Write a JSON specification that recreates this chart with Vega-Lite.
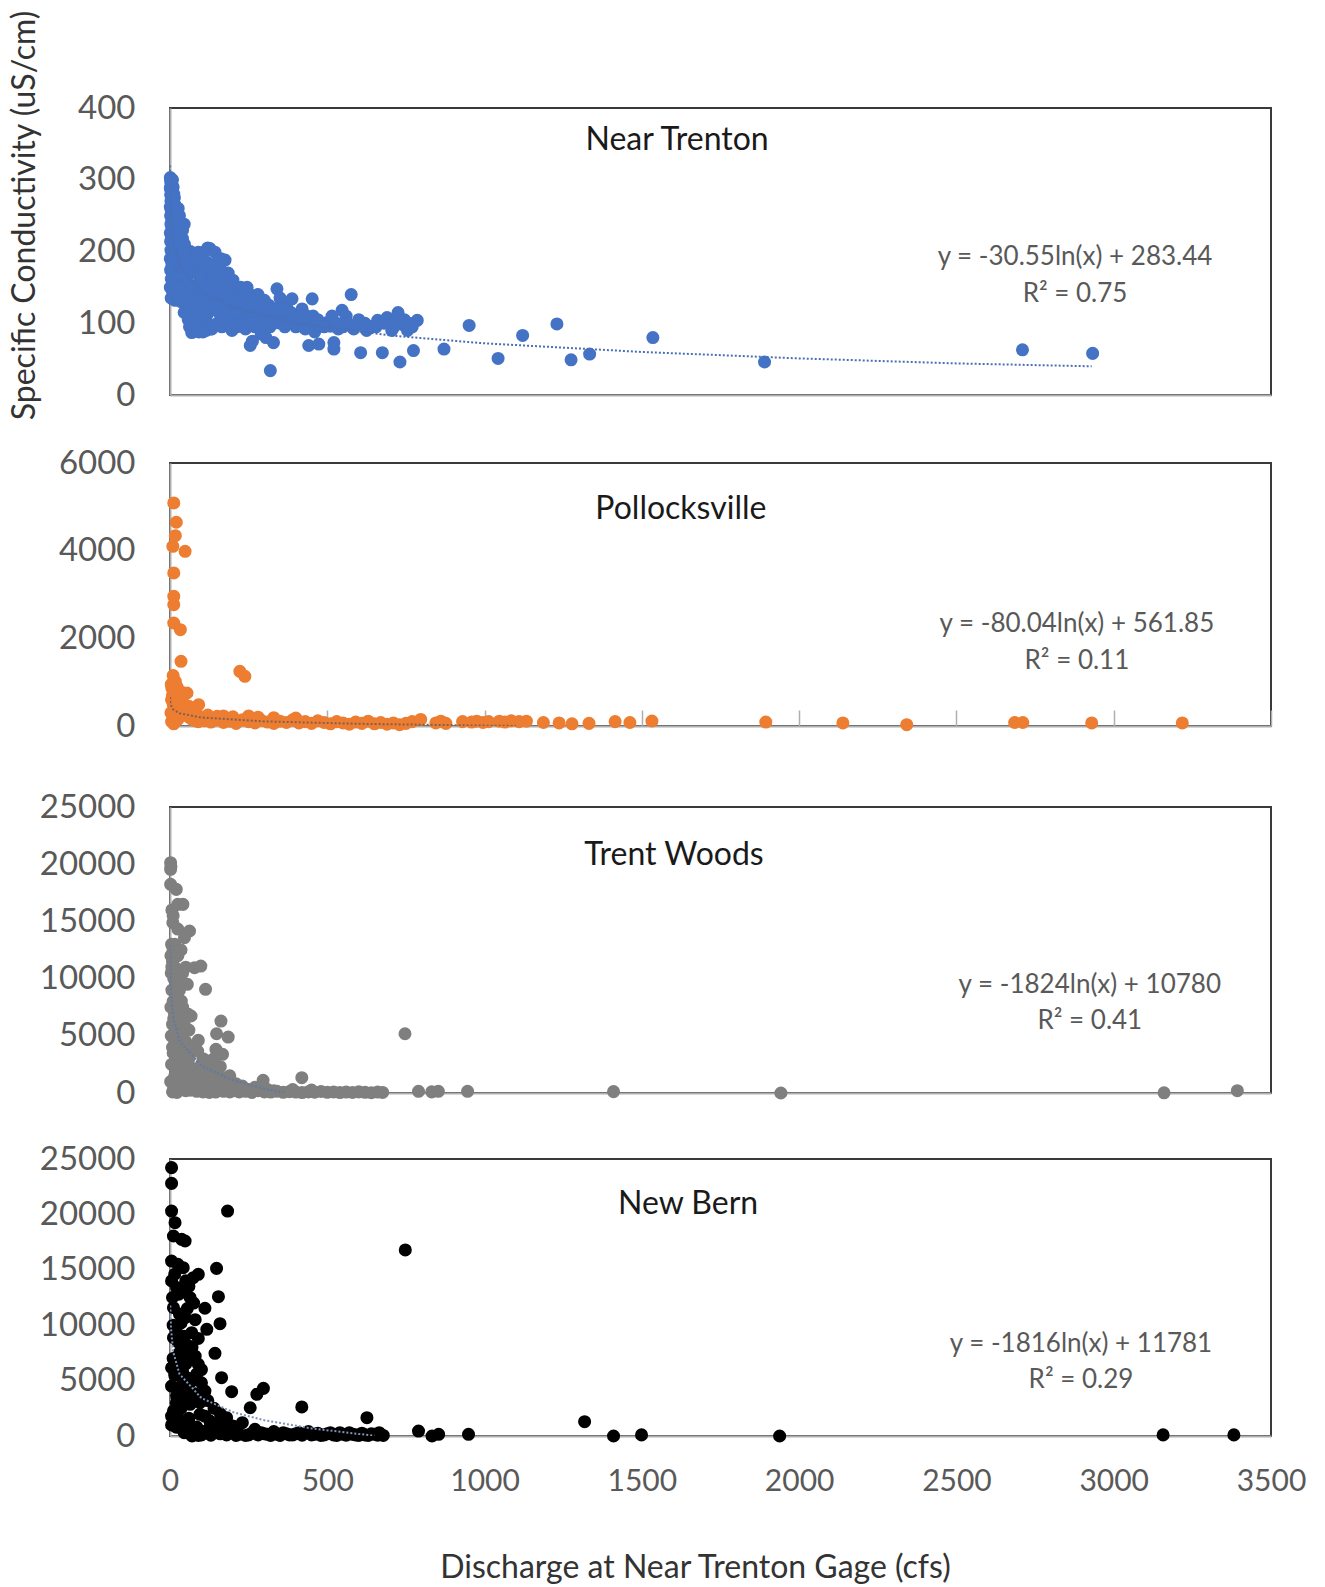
{
  "$schema": "https://vega.github.io/schema/vega-lite/v6.json",
  "padding": {"left": 6, "top": 8, "right": 5, "bottom": 5},
  "background": "white",
  "config": {
    "font": "Lato",
    "view": {"stroke": "#3a3a3a", "strokeWidth": 2},
    "axis": {
      "labelFont": "Lato", "titleFont": "Lato", "labelColor": "#595959",
      "domainColor": "#AFAFAF", "domainWidth": 2, "grid": false,
      "ticks": false, "tickSize": 0, "labelFontSize": 33, "labelPadding": 35
    }
  },
  "datasets": {
    "p1": [
      {"q":1,"sc":303},{"q":2,"sc":298},{"q":3,"sc":292},{"q":1,"sc":288},{"q":4,"sc":284},{"q":2,"sc":279},{"q":5,"sc":274},{"q":3,"sc":270},{"q":6,"sc":266},{"q":1,"sc":262},{"q":4,"sc":258},{"q":7,"sc":254},{"q":2,"sc":250},{"q":5,"sc":246},{"q":8,"sc":242},{"q":3,"sc":238},{"q":6,"sc":234},{"q":9,"sc":230},{"q":1,"sc":226},{"q":4,"sc":222},{"q":10,"sc":218},{"q":2,"sc":214},{"q":7,"sc":210},{"q":12,"sc":206},{"q":3,"sc":202},{"q":8,"sc":198},{"q":14,"sc":194},{"q":1,"sc":190},{"q":5,"sc":186},{"q":11,"sc":182},{"q":16,"sc":178},{"q":2,"sc":174},{"q":9,"sc":170},{"q":18,"sc":166},{"q":4,"sc":162},{"q":13,"sc":158},{"q":20,"sc":154},{"q":1,"sc":150},{"q":7,"sc":146},{"q":22,"sc":142},{"q":6,"sc":180},{"q":15,"sc":200},{"q":18,"sc":215},{"q":20,"sc":230},{"q":24,"sc":245},{"q":26,"sc":260},{"q":14,"sc":275},{"q":10,"sc":290},{"q":12,"sc":280},{"q":8,"sc":300},{"q":16,"sc":265},{"q":19,"sc":250},{"q":22,"sc":222},{"q":28,"sc":205},{"q":30,"sc":185},{"q":24,"sc":170},{"q":10,"sc":140},{"q":16,"sc":132},{"q":4,"sc":135},
      {"q":22,"sc":240},{"q":28,"sc":232},{"q":34,"sc":225},{"q":40,"sc":218},{"q":46,"sc":210},{"q":52,"sc":200},{"q":30,"sc":210},{"q":36,"sc":195},{"q":42,"sc":185},{"q":25,"sc":190},{"q":48,"sc":175},{"q":55,"sc":165},{"q":32,"sc":160},{"q":38,"sc":150},{"q":44,"sc":140},{"q":50,"sc":132},{"q":58,"sc":145},{"q":26,"sc":135},{"q":35,"sc":130},{"q":60,"sc":155},{"q":52,"sc":120},{"q":45,"sc":115},{"q":58,"sc":105},{"q":62,"sc":95},{"q":45,"sc":238},
      {"q":65,"sc":200},{"q":72,"sc":195},{"q":80,"sc":190},{"q":90,"sc":199},{"q":100,"sc":192},{"q":110,"sc":200},{"q":120,"sc":205},{"q":127,"sc":204},{"q":75,"sc":180},{"q":85,"sc":170},{"q":95,"sc":178},{"q":105,"sc":165},{"q":115,"sc":172},{"q":125,"sc":160},{"q":70,"sc":150},{"q":80,"sc":140},{"q":90,"sc":155},{"q":100,"sc":145},{"q":110,"sc":135},{"q":120,"sc":148},{"q":128,"sc":130},{"q":68,"sc":125},{"q":78,"sc":118},{"q":88,"sc":110},{"q":98,"sc":120},{"q":108,"sc":105},{"q":118,"sc":112},{"q":125,"sc":98},{"q":72,"sc":92},{"q":85,"sc":95},{"q":100,"sc":100},{"q":115,"sc":90},{"q":130,"sc":92},{"q":69,"sc":87},{"q":105,"sc":88},{"q":62,"sc":170},{"q":68,"sc":185},{"q":95,"sc":130},{"q":112,"sc":120},
      {"q":143,"sc":199},{"q":150,"sc":185},{"q":160,"sc":175},{"q":175,"sc":188},{"q":185,"sc":170},{"q":140,"sc":165},{"q":155,"sc":160},{"q":170,"sc":155},{"q":190,"sc":150},{"q":200,"sc":160},{"q":210,"sc":145},{"q":225,"sc":150},{"q":235,"sc":140},{"q":145,"sc":140},{"q":160,"sc":135},{"q":175,"sc":130},{"q":195,"sc":128},{"q":215,"sc":125},{"q":230,"sc":120},{"q":140,"sc":120},{"q":155,"sc":115},{"q":170,"sc":112},{"q":185,"sc":118},{"q":200,"sc":108},{"q":220,"sc":110},{"q":238,"sc":105},{"q":133,"sc":92},{"q":150,"sc":100},{"q":165,"sc":95},{"q":180,"sc":102},{"q":197,"sc":90},{"q":212,"sc":95},{"q":228,"sc":98},{"q":240,"sc":92},{"q":205,"sc":135},{"q":180,"sc":145},
      {"q":245,"sc":150},{"q":255,"sc":140},{"q":270,"sc":135},{"q":285,"sc":128},{"q":300,"sc":132},{"q":315,"sc":125},{"q":250,"sc":120},{"q":265,"sc":115},{"q":280,"sc":110},{"q":295,"sc":112},{"q":310,"sc":118},{"q":325,"sc":108},{"q":255,"sc":100},{"q":270,"sc":95},{"q":300,"sc":100},{"q":318,"sc":95},{"q":330,"sc":100},{"q":255,"sc":69},{"q":262,"sc":75},{"q":329,"sc":73},{"q":319,"sc":34},{"q":290,"sc":85},{"q":305,"sc":80},{"q":280,"sc":140},
      {"q":340,"sc":148},{"q":355,"sc":130},{"q":370,"sc":125},{"q":388,"sc":134},{"q":345,"sc":115},{"q":360,"sc":108},{"q":375,"sc":118},{"q":395,"sc":110},{"q":410,"sc":105},{"q":425,"sc":112},{"q":440,"sc":100},{"q":452,"sc":134},{"q":350,"sc":100},{"q":365,"sc":95},{"q":380,"sc":100},{"q":400,"sc":95},{"q":415,"sc":98},{"q":430,"sc":92},{"q":445,"sc":97},{"q":441,"sc":69},{"q":460,"sc":88},
      {"q":473,"sc":71},{"q":480,"sc":100},{"q":500,"sc":101},{"q":510,"sc":96},{"q":521,"sc":73},{"q":521,"sc":64},{"q":535,"sc":92},{"q":547,"sc":118},{"q":560,"sc":110},{"q":576,"sc":140},{"q":584,"sc":92},{"q":595,"sc":98},{"q":606,"sc":59},{"q":620,"sc":100},{"q":635,"sc":95},{"q":648,"sc":96},{"q":660,"sc":104},{"q":675,"sc":59},{"q":690,"sc":108},{"q":701,"sc":101},{"q":712,"sc":95},{"q":725,"sc":115},{"q":731,"sc":46},{"q":740,"sc":98},{"q":755,"sc":90},{"q":774,"sc":62},{"q":786,"sc":104},{"q":770,"sc":95},
      {"q":30,"sc":250},{"q":35,"sc":240},{"q":40,"sc":230},{"q":15,"sc":160},{"q":20,"sc":140},{"q":28,"sc":150},{"q":33,"sc":170},{"q":38,"sc":180},{"q":44,"sc":200},{"q":50,"sc":190},{"q":56,"sc":180},{"q":62,"sc":140},{"q":66,"sc":110},{"q":75,"sc":100},{"q":82,"sc":130},{"q":92,"sc":88},{"q":96,"sc":165},{"q":102,"sc":185},{"q":118,"sc":185},{"q":135,"sc":180},{"q":148,"sc":172},{"q":162,"sc":190},{"q":130,"sc":150},{"q":145,"sc":128},{"q":160,"sc":150},{"q":175,"sc":140},{"q":190,"sc":135},{"q":210,"sc":115},{"q":225,"sc":135},{"q":240,"sc":128},{"q":250,"sc":135},{"q":265,"sc":128},{"q":275,"sc":100},{"q":290,"sc":100},{"q":310,"sc":105},{"q":335,"sc":120},{"q":350,"sc":135},{"q":362,"sc":120},{"q":385,"sc":115},{"q":420,"sc":120},{"q":435,"sc":110},{"q":455,"sc":110},{"q":470,"sc":105},{"q":490,"sc":95},{"q":515,"sc":110},{"q":530,"sc":100},{"q":550,"sc":95},{"q":565,"sc":100},{"q":600,"sc":105},{"q":625,"sc":90},{"q":655,"sc":95},{"q":680,"sc":100},{"q":705,"sc":90},{"q":720,"sc":105},{"q":745,"sc":105},{"q":760,"sc":100},{"q":15,"sc":215},{"q":25,"sc":225},{"q":12,"sc":235},{"q":18,"sc":245},{"q":6,"sc":290},{"q":9,"sc":280},{"q":4,"sc":300},{"q":11,"sc":270},{"q":13,"sc":255},
      {"q":871,"sc":64},{"q":951,"sc":97},{"q":1043,"sc":51},{"q":1121,"sc":83},{"q":1230,"sc":99},{"q":1275,"sc":49},{"q":1334,"sc":57},{"q":1535,"sc":80},{"q":1890,"sc":46},{"q":2710,"sc":63},{"q":2933,"sc":58}
    ],
    "p2": [
      {"q":12,"sc":5088},{"q":20,"sc":4648},{"q":17,"sc":4342},{"q":9,"sc":4100},{"q":48,"sc":3986},{"q":12,"sc":3491},{"q":12,"sc":2959},{"q":12,"sc":2768},{"q":12,"sc":2350},{"q":33,"sc":2197},{"q":35,"sc":1476},{"q":222,"sc":1248},{"q":238,"sc":1134},
      {"q":17,"sc":1020},{"q":6,"sc":867},{"q":33,"sc":791},{"q":54,"sc":753},{"q":91,"sc":486},
      {"q":5,"sc":600},{"q":10,"sc":500},{"q":20,"sc":400},{"q":30,"sc":350},{"q":40,"sc":300},{"q":50,"sc":250},{"q":15,"sc":200},{"q":25,"sc":150},{"q":60,"sc":200},{"q":70,"sc":150},{"q":80,"sc":120},{"q":90,"sc":100},{"q":5,"sc":100},{"q":12,"sc":50},{"q":3,"sc":300},{"q":8,"sc":700},{"q":18,"sc":650},{"q":28,"sc":550},{"q":38,"sc":450},{"q":45,"sc":380},{"q":65,"sc":320},{"q":75,"sc":250},{"q":85,"sc":280},{"q":95,"sc":180},{"q":100,"sc":150},{"q":22,"sc":900},{"q":4,"sc":950},{"q":10,"sc":1150},{"q":40,"sc":650},{"q":60,"sc":450},
      {"q":110,"sc":120},{"q":130,"sc":90},{"q":150,"sc":150},{"q":170,"sc":80},{"q":190,"sc":110},{"q":210,"sc":60},{"q":230,"sc":140},{"q":250,"sc":100},{"q":270,"sc":70},{"q":290,"sc":130},{"q":310,"sc":90},{"q":330,"sc":60},{"q":350,"sc":110},{"q":370,"sc":80},{"q":390,"sc":140},{"q":410,"sc":70},{"q":430,"sc":100},{"q":450,"sc":60},{"q":470,"sc":120},{"q":490,"sc":80},{"q":510,"sc":50},{"q":530,"sc":100},{"q":550,"sc":70},{"q":570,"sc":40},{"q":590,"sc":90},{"q":610,"sc":60},{"q":630,"sc":110},{"q":650,"sc":50},{"q":670,"sc":80},{"q":690,"sc":40},{"q":710,"sc":70},{"q":730,"sc":30},{"q":750,"sc":60},{"q":770,"sc":100},{"q":797,"sc":150},{"q":250,"sc":230},{"q":280,"sc":200},{"q":150,"sc":220},{"q":200,"sc":210},{"q":330,"sc":190},{"q":400,"sc":180},{"q":120,"sc":250},{"q":170,"sc":230},
      {"q":845,"sc":70},{"q":861,"sc":110},{"q":877,"sc":60},{"q":930,"sc":100},{"q":959,"sc":90},{"q":975,"sc":110},{"q":995,"sc":80},{"q":1013,"sc":100},{"q":1047,"sc":110},{"q":1065,"sc":90},{"q":1085,"sc":120},{"q":1110,"sc":100},{"q":1133,"sc":110},{"q":1187,"sc":80},{"q":1237,"sc":70},{"q":1278,"sc":50},{"q":1332,"sc":60},{"q":1415,"sc":100},{"q":1462,"sc":80},{"q":1532,"sc":114},{"q":1894,"sc":90},{"q":2139,"sc":70},{"q":2342,"sc":30},{"q":2685,"sc":80},{"q":2711,"sc":80},{"q":2930,"sc":70},{"q":3218,"sc":70}
    ],
    "p3": [
      {"q":2,"sc":20130},{"q":3,"sc":19800},{"q":2,"sc":19550},{"q":2,"sc":18240},{"q":25,"sc":16490},{"q":41,"sc":16490},{"q":9,"sc":14890},{"q":25,"sc":14330},{"q":62,"sc":14160},{"q":46,"sc":13580},{"q":5,"sc":13000},{"q":10,"sc":12500},{"q":3,"sc":12000},{"q":8,"sc":11500},{"q":15,"sc":11000},{"q":4,"sc":10500},{"q":12,"sc":10000},{"q":20,"sc":9500},{"q":6,"sc":9000},{"q":18,"sc":8500},{"q":28,"sc":8000},{"q":3,"sc":7500},{"q":14,"sc":7000},{"q":22,"sc":6500},{"q":8,"sc":6000},{"q":30,"sc":5500},{"q":4,"sc":5000},{"q":16,"sc":4500},{"q":25,"sc":4000},{"q":10,"sc":3500},{"q":35,"sc":3000},{"q":5,"sc":2500},{"q":20,"sc":2000},{"q":40,"sc":1500},{"q":2,"sc":1000},{"q":12,"sc":500},{"q":30,"sc":300},{"q":50,"sc":200},{"q":8,"sc":100},{"q":22,"sc":50},
      {"q":78,"sc":10950},{"q":98,"sc":11100},{"q":113,"sc":9060},{"q":67,"sc":6730},{"q":162,"sc":6290},{"q":148,"sc":5180},{"q":185,"sc":4890},{"q":146,"sc":3820},{"q":167,"sc":3380},{"q":88,"sc":3670},{"q":296,"sc":1110},{"q":419,"sc":1340},{"q":747,"sc":5180},
      {"q":25,"sc":9790},{"q":36,"sc":8040},{"q":57,"sc":6900},{"q":20,"sc":4545},{"q":57,"sc":3410},{"q":67,"sc":2210},{"q":120,"sc":2800},{"q":145,"sc":1920},
      {"q":40,"sc":2200},{"q":60,"sc":1800},{"q":80,"sc":1500},{"q":100,"sc":1200},{"q":120,"sc":1000},{"q":140,"sc":800},{"q":160,"sc":700},{"q":180,"sc":600},{"q":200,"sc":500},{"q":50,"sc":1000},{"q":70,"sc":700},{"q":90,"sc":500},{"q":110,"sc":400},{"q":130,"sc":300},{"q":150,"sc":200},{"q":170,"sc":150},{"q":190,"sc":100},{"q":30,"sc":800},{"q":45,"sc":400},{"q":65,"sc":250},{"q":85,"sc":150},{"q":105,"sc":100},{"q":125,"sc":50},{"q":145,"sc":80},{"q":165,"sc":300},{"q":185,"sc":400},{"q":205,"sc":200},{"q":220,"sc":100},{"q":240,"sc":150},{"q":260,"sc":50},{"q":280,"sc":200},{"q":300,"sc":100},{"q":320,"sc":80},{"q":340,"sc":150},{"q":360,"sc":60},{"q":380,"sc":120},{"q":400,"sc":80},{"q":420,"sc":40},{"q":440,"sc":100},{"q":460,"sc":70},{"q":480,"sc":130},{"q":500,"sc":60},{"q":520,"sc":90},{"q":540,"sc":40},{"q":560,"sc":80},{"q":580,"sc":50},{"q":600,"sc":100},{"q":620,"sc":60},{"q":640,"sc":30},{"q":660,"sc":80},{"q":676,"sc":50},{"q":120,"sc":1800},{"q":100,"sc":2500},{"q":80,"sc":2000},{"q":140,"sc":1400},{"q":160,"sc":1100},{"q":180,"sc":900},{"q":60,"sc":3000},{"q":40,"sc":3800},{"q":30,"sc":6000},{"q":20,"sc":7200},
      {"q":15,"sc":13000},{"q":6,"sc":11000},{"q":25,"sc":12000},{"q":18,"sc":10500},{"q":30,"sc":9000},{"q":10,"sc":8000},{"q":40,"sc":7500},{"q":25,"sc":7000},{"q":12,"sc":6500},{"q":45,"sc":6000},{"q":35,"sc":5000},{"q":8,"sc":4000},{"q":50,"sc":4500},{"q":22,"sc":3000},{"q":45,"sc":2500},{"q":28,"sc":1000},{"q":15,"sc":1500},{"q":55,"sc":500},{"q":70,"sc":1200},{"q":85,"sc":900},{"q":95,"sc":1700},{"q":110,"sc":2200},{"q":130,"sc":2000},{"q":105,"sc":3000},{"q":75,"sc":4000},{"q":90,"sc":4600},{"q":60,"sc":5500},{"q":140,"sc":3000},{"q":160,"sc":2300},{"q":175,"sc":1300},{"q":190,"sc":1500},{"q":210,"sc":800},{"q":230,"sc":600},{"q":250,"sc":300},{"q":270,"sc":500},{"q":310,"sc":300},{"q":330,"sc":200},{"q":390,"sc":300},{"q":450,"sc":250},{"q":10,"sc":15500},{"q":20,"sc":17800},{"q":6,"sc":16000},{"q":35,"sc":12500},{"q":50,"sc":11000},{"q":55,"sc":9500},{"q":40,"sc":10500},
      {"q":790,"sc":150},{"q":832,"sc":100},{"q":853,"sc":150},{"q":946,"sc":150},{"q":1410,"sc":120},{"q":1942,"sc":0},{"q":3160,"sc":20},{"q":3393,"sc":200}
    ],
    "p4": [
      {"q":5,"sc":24220},{"q":5,"sc":22800},{"q":5,"sc":20300},{"q":16,"sc":19250},{"q":11,"sc":18050},{"q":37,"sc":17750},{"q":48,"sc":17600},{"q":183,"sc":20300},{"q":748,"sc":16790},{"q":5,"sc":15790},{"q":148,"sc":15130},{"q":154,"sc":12570},{"q":159,"sc":10140},{"q":143,"sc":7460},{"q":164,"sc":5260},{"q":196,"sc":4000},{"q":255,"sc":2550},{"q":297,"sc":4300},{"q":419,"sc":2620},{"q":626,"sc":1650},{"q":1318,"sc":1290},{"q":90,"sc":14590},{"q":111,"sc":11530},{"q":117,"sc":9630},
      {"q":42,"sc":15190},{"q":74,"sc":14290},{"q":21,"sc":13390},{"q":64,"sc":12480},{"q":11,"sc":11580},{"q":48,"sc":10680},{"q":69,"sc":9320},{"q":11,"sc":8870},{"q":42,"sc":7970},{"q":64,"sc":7070},{"q":5,"sc":6160},{"q":90,"sc":6470},{"q":69,"sc":4960},{"q":111,"sc":4060},{"q":21,"sc":3600},{"q":64,"sc":2860},{"q":11,"sc":2260},{"q":95,"sc":1960},{"q":127,"sc":1350},{"q":180,"sc":1650},{"q":276,"sc":3760},
      {"q":5,"sc":1000},{"q":20,"sc":800},{"q":40,"sc":600},{"q":60,"sc":400},{"q":80,"sc":200},{"q":100,"sc":100},{"q":120,"sc":300},{"q":140,"sc":500},{"q":160,"sc":200},{"q":180,"sc":100},{"q":200,"sc":300},{"q":220,"sc":150},{"q":240,"sc":50},{"q":260,"sc":250},{"q":280,"sc":100},{"q":300,"sc":200},{"q":320,"sc":50},{"q":340,"sc":150},{"q":360,"sc":300},{"q":380,"sc":100},{"q":400,"sc":200},{"q":420,"sc":80},{"q":440,"sc":400},{"q":460,"sc":150},{"q":480,"sc":50},{"q":500,"sc":200},{"q":520,"sc":100},{"q":540,"sc":300},{"q":560,"sc":80},{"q":580,"sc":150},{"q":600,"sc":50},{"q":620,"sc":100},{"q":640,"sc":200},{"q":660,"sc":80},{"q":678,"sc":50},{"q":30,"sc":1500},{"q":50,"sc":1200},{"q":10,"sc":2000},{"q":35,"sc":2500},{"q":55,"sc":3200},{"q":25,"sc":4200},{"q":15,"sc":5500},{"q":45,"sc":5000},{"q":30,"sc":6800},{"q":55,"sc":8200},{"q":20,"sc":9500},{"q":35,"sc":10200},{"q":8,"sc":12500},{"q":28,"sc":12800},{"q":50,"sc":14000},{"q":15,"sc":14600},
      {"q":5,"sc":14000},{"q":25,"sc":15500},{"q":40,"sc":13000},{"q":60,"sc":13500},{"q":75,"sc":12000},{"q":30,"sc":11000},{"q":10,"sc":10000},{"q":55,"sc":11500},{"q":80,"sc":10500},{"q":25,"sc":8500},{"q":45,"sc":9000},{"q":70,"sc":8000},{"q":90,"sc":8800},{"q":10,"sc":7000},{"q":30,"sc":7500},{"q":50,"sc":6500},{"q":80,"sc":7200},{"q":100,"sc":6000},{"q":20,"sc":6300},{"q":40,"sc":5800},{"q":60,"sc":5200},{"q":85,"sc":5600},{"q":100,"sc":4800},{"q":5,"sc":4500},{"q":35,"sc":4500},{"q":55,"sc":4200},{"q":80,"sc":3800},{"q":120,"sc":3200},{"q":20,"sc":3000},{"q":45,"sc":3500},{"q":95,"sc":3000},{"q":140,"sc":2500},{"q":160,"sc":2000},{"q":5,"sc":1800},{"q":25,"sc":1200},{"q":60,"sc":1600},{"q":110,"sc":1800},{"q":150,"sc":1200},{"q":200,"sc":900},{"q":230,"sc":1200},{"q":170,"sc":700},{"q":45,"sc":300},{"q":65,"sc":600},{"q":85,"sc":800},{"q":105,"sc":400},{"q":125,"sc":700},{"q":70,"sc":10},{"q":90,"sc":50},{"q":130,"sc":80},{"q":150,"sc":300},{"q":190,"sc":500},{"q":210,"sc":50},{"q":250,"sc":100},{"q":270,"sc":600},{"q":290,"sc":300},{"q":310,"sc":150},{"q":330,"sc":400},{"q":350,"sc":50},{"q":370,"sc":200},{"q":390,"sc":100},{"q":410,"sc":300},{"q":450,"sc":100},{"q":470,"sc":250},{"q":490,"sc":100},{"q":510,"sc":300},{"q":530,"sc":50},{"q":550,"sc":150},{"q":570,"sc":300},{"q":590,"sc":100},{"q":610,"sc":250},{"q":630,"sc":50},{"q":650,"sc":150},{"q":665,"sc":300},
      {"q":790,"sc":450},{"q":833,"sc":0},{"q":854,"sc":150},{"q":949,"sc":150},{"q":1410,"sc":0},{"q":1499,"sc":100},{"q":1938,"sc":0},{"q":3157,"sc":100},{"q":3382,"sc":100}
    ],
    "trend": [
      {"site":"Near Trenton","q":0.3,"sc":320},{"site":"Near Trenton","q":1,"sc":283},{"site":"Near Trenton","q":3,"sc":250},{"site":"Near Trenton","q":10,"sc":213},{"site":"Near Trenton","q":30,"sc":180},{"site":"Near Trenton","q":100,"sc":143},{"site":"Near Trenton","q":200,"sc":122},{"site":"Near Trenton","q":400,"sc":100},{"site":"Near Trenton","q":700,"sc":83},{"site":"Near Trenton","q":1000,"sc":72},{"site":"Near Trenton","q":1500,"sc":60},{"site":"Near Trenton","q":2000,"sc":51},{"site":"Near Trenton","q":2500,"sc":44},{"site":"Near Trenton","q":2930,"sc":40},
      {"site":"Pollocksville","q":0.3,"sc":658},{"site":"Pollocksville","q":1,"sc":562},{"site":"Pollocksville","q":3,"sc":474},{"site":"Pollocksville","q":10,"sc":378},{"site":"Pollocksville","q":30,"sc":290},{"site":"Pollocksville","q":100,"sc":193},{"site":"Pollocksville","q":300,"sc":105},{"site":"Pollocksville","q":600,"sc":50},{"site":"Pollocksville","q":1000,"sc":9},{"site":"Pollocksville","q":1100,"sc":1},
      {"site":"Trent Woods","q":0.3,"sc":12976},{"site":"Trent Woods","q":1,"sc":10780},{"site":"Trent Woods","q":3,"sc":8776},{"site":"Trent Woods","q":10,"sc":6580},{"site":"Trent Woods","q":30,"sc":4576},{"site":"Trent Woods","q":100,"sc":2380},{"site":"Trent Woods","q":200,"sc":1116},{"site":"Trent Woods","q":300,"sc":376},{"site":"Trent Woods","q":365,"sc":20},
      {"site":"New Bern","q":1,"sc":11781},{"site":"New Bern","q":3,"sc":9786},{"site":"New Bern","q":10,"sc":7600},{"site":"New Bern","q":30,"sc":5604},{"site":"New Bern","q":100,"sc":3418},{"site":"New Bern","q":200,"sc":2160},{"site":"New Bern","q":300,"sc":1423},{"site":"New Bern","q":450,"sc":686},{"site":"New Bern","q":650,"sc":19}
    ]
  },
  "spacing": 46,
  "vconcat": [
    {
      "bounds": "flush",
      "spacing": 68,
      "vconcat": [
        {
          "width": 1101, "height": 287,
          "layer": [
            {
              "data": {"name": "p1"},
              "mark": {"type": "circle", "size": 170, "opacity": 1, "color": "#4472C4"},
              "encoding": {
                "x": {"field": "q", "type": "quantitative", "scale": {"domain": [0, 3500], "nice": false},
                      "axis": {"labels": false, "title": null, "ticks": false}},
                "y": {"field": "sc", "type": "quantitative", "scale": {"domain": [0, 400], "nice": false},
                      "axis": {"values": [0, 100, 200, 300, 400], "format": "d",
                               "title": "Specific Conductivity (uS/cm)", "titleFontSize": 32, "titleColor": "#333333",
                               "titleFontWeight": "normal", "titleX": -146, "titleY": 107, "titleAngle": -90,
                               "titleAlign": "center", "titleBaseline": "middle"}}
              }
            },
            {
              "data": {"name": "trend"},
              "transform": [{"filter": "datum.site === 'Near Trenton'"}],
              "mark": {"type": "line", "strokeDash": [2, 2], "strokeWidth": 2, "color": "#4a6fb5", "clip": true},
              "encoding": {"x": {"field": "q", "type": "quantitative"}, "y": {"field": "sc", "type": "quantitative"}}
            },
            {
              "data": {"values": [{"label": "Near Trenton"}]},
              "mark": {"type": "text", "fontSize": 32, "color": "#1a1a1a", "align": "center", "baseline": "middle"},
              "encoding": {"x": {"datum": 1612, "type": "quantitative"}, "y": {"datum": 355, "type": "quantitative"}, "text": {"field": "label"}}
            },
            {
              "data": {"values": [{"label": "y = -30.55ln(x) + 283.44"}]},
              "mark": {"type": "text", "fontSize": 26, "color": "#595959", "align": "center", "baseline": "middle"},
              "encoding": {"x": {"datum": 2877, "type": "quantitative"}, "y": {"datum": 192, "type": "quantitative"}, "text": {"field": "label"}}
            },
            {
              "data": {"values": [{"label": "R² = 0.75"}]},
              "mark": {"type": "text", "fontSize": 26, "color": "#595959", "align": "center", "baseline": "middle"},
              "encoding": {"x": {"datum": 2877, "type": "quantitative"}, "y": {"datum": 141, "type": "quantitative"}, "text": {"field": "label"}}
            }
          ]
        },
        {
          "width": 1101, "height": 263,
          "layer": [
            {
              "data": {"name": "p2"},
              "mark": {"type": "circle", "size": 170, "opacity": 1, "color": "#ED7D31"},
              "encoding": {
                "x": {"field": "q", "type": "quantitative", "scale": {"domain": [0, 3500], "nice": false},
                      "axis": {"labels": false, "title": null, "ticks": true, "tickSize": -16, "tickWidth": 1.5, "tickColor": "#AFAFAF",
                               "values": [500, 1000, 1500, 2000, 2500, 3000, 3500]}},
                "y": {"field": "sc", "type": "quantitative", "scale": {"domain": [0, 6000], "nice": false},
                      "axis": {"values": [0, 2000, 4000, 6000], "format": "d", "title": null}}
              }
            },
            {
              "data": {"name": "trend"},
              "transform": [{"filter": "datum.site === 'Pollocksville'"}],
              "mark": {"type": "line", "strokeDash": [2, 2], "strokeWidth": 2, "color": "#806050", "clip": true},
              "encoding": {"x": {"field": "q", "type": "quantitative"}, "y": {"field": "sc", "type": "quantitative"}}
            },
            {
              "data": {"values": [{"label": "Pollocksville"}]},
              "mark": {"type": "text", "fontSize": 32, "color": "#1a1a1a", "align": "center", "baseline": "middle"},
              "encoding": {"x": {"datum": 1624, "type": "quantitative"}, "y": {"datum": 4951, "type": "quantitative"}, "text": {"field": "label"}}
            },
            {
              "data": {"values": [{"label": "y = -80.04ln(x) + 561.85"}]},
              "mark": {"type": "text", "fontSize": 26, "color": "#595959", "align": "center", "baseline": "middle"},
              "encoding": {"x": {"datum": 2883, "type": "quantitative"}, "y": {"datum": 2316, "type": "quantitative"}, "text": {"field": "label"}}
            },
            {
              "data": {"values": [{"label": "R² = 0.11"}]},
              "mark": {"type": "text", "fontSize": 26, "color": "#595959", "align": "center", "baseline": "middle"},
              "encoding": {"x": {"datum": 2883, "type": "quantitative"}, "y": {"datum": 1483, "type": "quantitative"}, "text": {"field": "label"}}
            }
          ]
        }
      ]
    },
    {
      "bounds": "flush",
      "spacing": 66,
      "vconcat": [
        {
          "width": 1101, "height": 286,
          "layer": [
            {
              "data": {"name": "p3"},
              "mark": {"type": "circle", "size": 170, "opacity": 1, "color": "#7F7F7F"},
              "encoding": {
                "x": {"field": "q", "type": "quantitative", "scale": {"domain": [0, 3500], "nice": false},
                      "axis": {"labels": false, "title": null, "ticks": false}},
                "y": {"field": "sc", "type": "quantitative", "scale": {"domain": [0, 25000], "nice": false},
                      "axis": {"values": [0, 5000, 10000, 15000, 20000, 25000], "format": "d", "title": null}}
              }
            },
            {
              "data": {"name": "trend"},
              "transform": [{"filter": "datum.site === 'Trent Woods'"}],
              "mark": {"type": "line", "strokeDash": [2, 2], "strokeWidth": 2, "color": "#5f7aa0", "clip": true},
              "encoding": {"x": {"field": "q", "type": "quantitative"}, "y": {"field": "sc", "type": "quantitative"}}
            },
            {
              "data": {"values": [{"label": "Trent Woods"}]},
              "mark": {"type": "text", "fontSize": 32, "color": "#1a1a1a", "align": "center", "baseline": "middle"},
              "encoding": {"x": {"datum": 1602, "type": "quantitative"}, "y": {"datum": 20800, "type": "quantitative"}, "text": {"field": "label"}}
            },
            {
              "data": {"values": [{"label": "y = -1824ln(x) + 10780"}]},
              "mark": {"type": "text", "fontSize": 26, "color": "#595959", "align": "center", "baseline": "middle"},
              "encoding": {"x": {"datum": 2924, "type": "quantitative"}, "y": {"datum": 9440, "type": "quantitative"}, "text": {"field": "label"}}
            },
            {
              "data": {"values": [{"label": "R² = 0.41"}]},
              "mark": {"type": "text", "fontSize": 26, "color": "#595959", "align": "center", "baseline": "middle"},
              "encoding": {"x": {"datum": 2924, "type": "quantitative"}, "y": {"datum": 6290, "type": "quantitative"}, "text": {"field": "label"}}
            }
          ]
        },
        {
          "width": 1101, "height": 277,
          "layer": [
            {
              "data": {"name": "p4"},
              "mark": {"type": "circle", "size": 170, "opacity": 1, "color": "#000000"},
              "encoding": {
                "x": {"field": "q", "type": "quantitative", "scale": {"domain": [0, 3500], "nice": false},
                      "axis": {"values": [0, 500, 1000, 1500, 2000, 2500, 3000, 3500], "format": "d", "labelFlush": false,
                               "labelFontSize": 30, "labelPadding": 30, "ticks": false,
                               "title": "Discharge at Near Trenton Gage (cfs)", "titleFontSize": 32, "titleColor": "#333333",
                               "titleFontWeight": "normal", "titleX": 525, "titleY": 131, "titleAlign": "center", "titleBaseline": "middle"}},
                "y": {"field": "sc", "type": "quantitative", "scale": {"domain": [0, 25000], "nice": false},
                      "axis": {"values": [0, 5000, 10000, 15000, 20000, 25000], "format": "d", "title": null}}
              }
            },
            {
              "data": {"name": "trend"},
              "transform": [{"filter": "datum.site === 'New Bern'"}],
              "mark": {"type": "line", "strokeDash": [2, 2], "strokeWidth": 2, "color": "#7f93b8", "clip": true},
              "encoding": {"x": {"field": "q", "type": "quantitative"}, "y": {"field": "sc", "type": "quantitative"}}
            },
            {
              "data": {"values": [{"label": "New Bern"}]},
              "mark": {"type": "text", "fontSize": 32, "color": "#1a1a1a", "align": "center", "baseline": "middle"},
              "encoding": {"x": {"datum": 1647, "type": "quantitative"}, "y": {"datum": 20980, "type": "quantitative"}, "text": {"field": "label"}}
            },
            {
              "data": {"values": [{"label": "y = -1816ln(x) + 11781"}]},
              "mark": {"type": "text", "fontSize": 26, "color": "#595959", "align": "center", "baseline": "middle"},
              "encoding": {"x": {"datum": 2896, "type": "quantitative"}, "y": {"datum": 8300, "type": "quantitative"}, "text": {"field": "label"}}
            },
            {
              "data": {"values": [{"label": "R² = 0.29"}]},
              "mark": {"type": "text", "fontSize": 26, "color": "#595959", "align": "center", "baseline": "middle"},
              "encoding": {"x": {"datum": 2896, "type": "quantitative"}, "y": {"datum": 5090, "type": "quantitative"}, "text": {"field": "label"}}
            }
          ]
        }
      ]
    }
  ]
}
